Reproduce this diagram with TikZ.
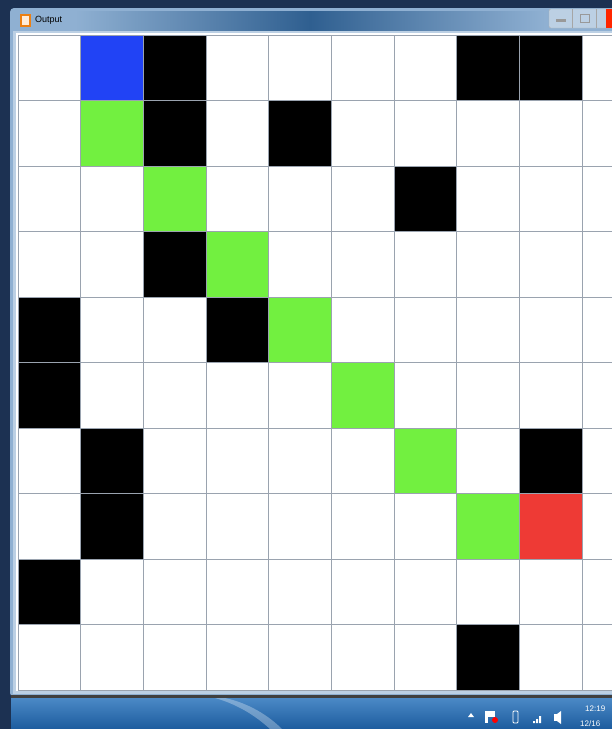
\documentclass[tikz,border=0pt]{standalone}
\usepackage{fontspec}
\setmainfont{Liberation Sans}
\begin{document}
\begin{tikzpicture}[x=1pt,y=-1pt,
  cell/.style={draw=gridline,line width=1pt},
  wall/.style={cell,fill=black},
  path/.style={cell,fill=pathgreen},
  startc/.style={cell,fill=startblue},
  goalc/.style={cell,fill=goalred}]
\definecolor{bgnavy}{HTML}{1C3152}
\definecolor{gridline}{HTML}{9AA3AF}
\definecolor{pathgreen}{HTML}{72F040}
\definecolor{startblue}{HTML}{2143F5}
\definecolor{goalred}{HTML}{EE3A35}
\definecolor{frameblue}{HTML}{8FB0D2}
\definecolor{titledark}{HTML}{2F5F90}
\definecolor{taskA}{HTML}{2B74BC}
\definecolor{taskB}{HTML}{1C5C9E}
\useasboundingbox (0,0) rectangle (612,729);
\fill[bgnavy] (0,0) rectangle (612,729);
% window frame
\fill[frameblue, rounded corners=4pt] (10,8) rectangle (620,697);
\shade[left color=frameblue, right color=frameblue, middle color=titledark] (75,11) rectangle (545,31);
\fill[frameblue!60!white] (13,31) rectangle (620,694);
\fill[white] (16,33) rectangle (620,691);
% title
\node[anchor=west, font=\fontsize{9}{10}\selectfont, inner sep=0pt] (title) at (35,20) {Output};
\fill[orange!70!brown] (20,14) rectangle (31,27);
\fill[white!85!orange] (22,16) rectangle (29,25);
% window buttons
\fill[frameblue!60!white, draw=gray!60, rounded corners=2pt] (549,9) rectangle (612,28);
\draw[gray!70] (572,9) -- (572,28) (596,9) -- (596,28);
\fill[gray!80] (556,19) rectangle (566,22);
\draw[gray!80, line width=1pt] (580,14) rectangle (589,22);
\fill[red!70!orange] (606,9) rectangle (612,28);
% grid
\foreach \c in {0,...,9} \foreach \r in {0,...,9}
  \draw[cell] ({18+62.7*\c},{35+65.5*\r}) rectangle ++(62.7,65.5);
\foreach \c/\r in {2/0,7/0,8/0,2/1,4/1,6/2,2/3,0/4,3/4,0/5,1/6,8/6,1/7,0/8,7/9}
  \draw[wall] ({18+62.7*\c},{35+65.5*\r}) rectangle ++(62.7,65.5);
\foreach \c/\r in {1/1,2/2,3/3,4/4,5/5,6/6,7/7}
  \draw[path] ({18+62.7*\c},{35+65.5*\r}) rectangle ++(62.7,65.5);
\draw[startc] ({18+62.7*1},35) rectangle ++(62.7,65.5);
\draw[goalc] ({18+62.7*8},{35+65.5*7}) rectangle ++(62.7,65.5);
% taskbar
\fill[gray!50!black] (11,695) rectangle (612,698);
\shade[top color=taskA!85!white, bottom color=taskB] (11,698) rectangle (612,729);
\fill[white, opacity=0.3] (215,698) .. controls (240,705) and (258,718) .. (270,729) -- (282,729) .. controls (268,715) and (248,703) .. (225,698) -- cycle;
% tray
\fill[white] (468,717) -- (471,713) -- (474,717) -- cycle;
\fill[white] (485,711) rectangle (488,723);
\fill[white] (488,711) rectangle (495,717);
\fill[red] (495,720) circle (3);
\draw[white, line width=0.8pt, rounded corners=1pt] (513,711) rectangle (518,723);
\fill[white] (533,721) rectangle (535,723) (536,719) rectangle (538,723) (539,716) rectangle (541,723);
\fill[white] (554,714) rectangle (557,721);
\fill[white] (557,714) -- (561,711) -- (561,724) -- (557,721) -- cycle;
\node[anchor=west, font=\fontsize{8}{9}\selectfont, text=white, inner sep=0pt] (clock) at (585,709) {12:19};
\node[anchor=west, font=\fontsize{8}{9}\selectfont, text=white, inner sep=0pt] (date) at (580,724) {12/16};
\end{tikzpicture}
\end{document}
